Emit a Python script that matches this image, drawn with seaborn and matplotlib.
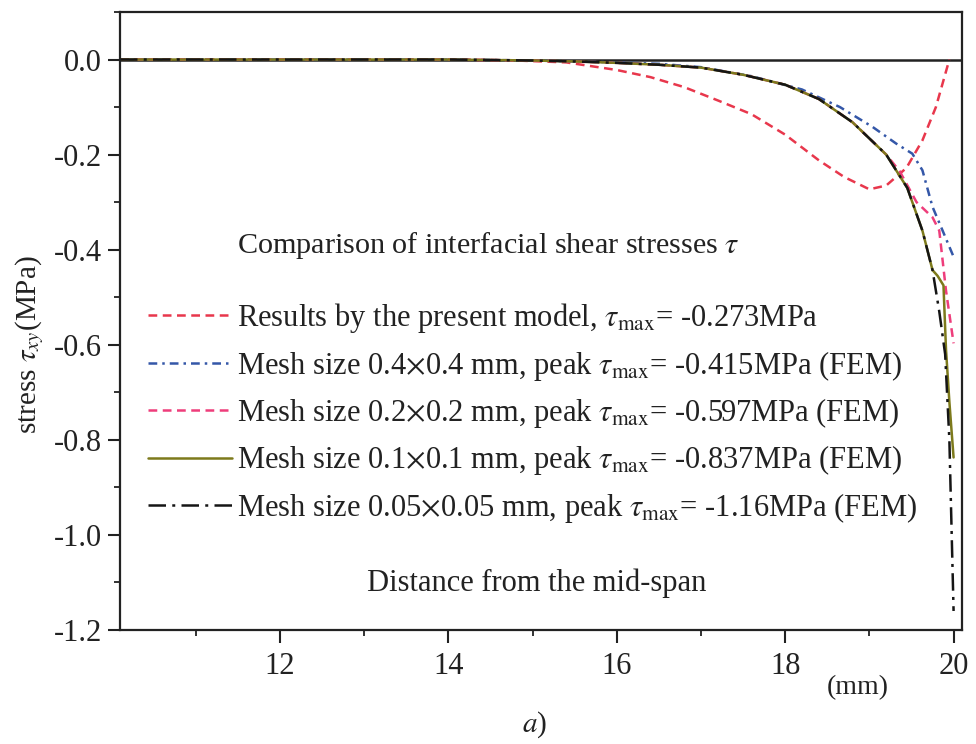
import matplotlib
matplotlib.use("Agg")
import matplotlib.pyplot as plt
import seaborn as sns
import pandas as pd
from matplotlib.ticker import MultipleLocator

# ---------------- data ----------------
x_model = [10.1, 11, 12, 13, 14, 14.8, 15.4, 16.0, 16.4, 16.8, 17.2, 17.6, 18.0, 18.4,
           18.7, 19.0, 19.2, 19.44, 19.63, 19.79, 19.95]
y_model = [0.0, 0.0, 0.0, 0.0, 0.0, -0.002, -0.006, -0.022, -0.037, -0.058, -0.086, -0.115,
           -0.158, -0.212, -0.247, -0.273, -0.265, -0.228, -0.17, -0.10, 0.0]

x_m04 = [10.1, 11, 12, 13, 14, 15, 16, 16.5, 17, 17.6, 18.2, 18.65, 19.04, 19.32, 19.51,
         19.63, 19.75, 19.87, 20.0]
y_m04 = [0.0, 0.0, 0.0, 0.0, 0.0, -0.002, -0.006, -0.009, -0.016, -0.035, -0.063, -0.10,
         -0.142, -0.177, -0.198, -0.233, -0.31, -0.36, -0.415]

x_m02 = [10.1, 11, 12, 13, 14, 15, 15.5, 16, 16.5, 17, 17.5, 18, 18.4, 18.8, 19.2, 19.36,
         19.56, 19.75, 19.83, 19.91, 20.0]
y_m02 = [0.0, 0.0, 0.0, 0.0, 0.0, -0.002, -0.004, -0.007, -0.011, -0.017, -0.032, -0.053,
         -0.083, -0.132, -0.2, -0.235, -0.30, -0.332, -0.36, -0.486, -0.597]

x_m01 = [10.1, 11, 12, 13, 14, 15, 15.5, 16, 16.5, 17, 17.5, 18, 18.4, 18.8, 19.2, 19.45,
         19.63, 19.75, 19.81, 19.88, 19.91, 19.95, 20.0]
y_m01 = [0.0, 0.0, 0.0, 0.0, 0.0, -0.002, -0.004, -0.007, -0.011, -0.017, -0.032, -0.053,
         -0.083, -0.132, -0.2, -0.27, -0.36, -0.443, -0.455, -0.475, -0.61, -0.72, -0.837]

x_m005 = [10.1, 11, 12, 13, 14, 15, 15.5, 16, 16.5, 17, 17.5, 18, 18.4, 18.8, 19.2, 19.45,
          19.63, 19.75, 19.83, 19.9, 19.95, 20.0]
y_m005 = [0.0, 0.0, 0.0, 0.0, 0.0, -0.002, -0.004, -0.007, -0.011, -0.017, -0.032, -0.053,
          -0.083, -0.132, -0.2, -0.27, -0.36, -0.443, -0.53, -0.62, -0.80, -1.16]

labels = [
    r"Results by the present model, $\tau_{\rm max}$= -0.273MPa",
    r"Mesh size 0.4$\times$0.4 mm, peak $\tau_{\rm max}$= -0.415MPa (FEM)",
    r"Mesh size 0.2$\times$0.2 mm, peak $\tau_{\rm max}$= -0.597MPa (FEM)",
    r"Mesh size 0.1$\times$0.1 mm, peak $\tau_{\rm max}$= -0.837MPa (FEM)",
    r"Mesh size 0.05$\times$0.05 mm, peak $\tau_{\rm max}$= -1.16MPa (FEM)",
]
x_ticks = [12, 14, 16, 18, 20]
y_ticks = [0.0, -0.2, -0.4, -0.6, -0.8, -1.0, -1.2]

# ---------------- style ----------------
sns.set_theme(style="ticks")
plt.rcParams["font.family"] = ["Liberation Serif", "DejaVu Serif"]
plt.rcParams["mathtext.fontset"] = "stix"
plt.rcParams["axes.edgecolor"] = "#222222"
plt.rcParams["axes.linewidth"] = 1.6

fig = plt.figure(figsize=(9.76, 7.44), dpi=100)
W, H = 976, 744
ax = fig.add_axes([120 / W, 1 - 630 / H, (962 - 120) / W, (630 - 12) / H])

series = [
    (x_model, y_model, "#e8374c", (0, (3.5, 2.2))),
    (x_m04, y_m04, "#3457a8", (0, (3.5, 2.0, 1.0, 2.0))),
    (x_m02, y_m02, "#ee3d7b", (0, (3.5, 2.2))),
    (x_m01, y_m01, "#7d7a1c", "-"),
    (x_m005, y_m005, "#151515", (0, (7, 2.5, 1.2, 2.5))),
]

handles = []
for (xs, ys, col, ls), lab in zip(series, labels):
    df = pd.DataFrame({"x": xs, "y": ys})
    sns.lineplot(data=df, x="x", y="y", ax=ax, color=col, linestyle=ls,
                 linewidth=1.8, estimator=None, sort=False, label=lab, legend=False)
    handles.append(ax.lines[-1])

ax.axhline(0.0, color="#222222", linewidth=1.8, zorder=1)

ax.set_xlim(10.1, 20.1)
ax.set_ylim(-1.2, 0.1)
ax.set_xticks(x_ticks)
ax.set_yticks(y_ticks)
ax.set_xticklabels([str(v) for v in x_ticks])
ax.set_yticklabels(["0.0", "-0.2", "-0.4", "-0.6", "-0.8", "-1.0", "-1.2"])
ax.xaxis.set_minor_locator(MultipleLocator(1))
ax.yaxis.set_minor_locator(MultipleLocator(0.1))
ax.tick_params(axis="both", which="major", direction="out", length=9, width=1.5,
               labelsize=22, colors="#222222")
ax.tick_params(axis="x", which="major", pad=7)
ax.tick_params(axis="y", which="major", pad=4)
ax.tick_params(axis="both", which="minor", direction="out", length=4, width=1.3,
               colors="#222222")
for s in ax.spines.values():
    s.set_visible(True)
    s.set_color("#222222")

ax.set_xlabel("Distance from the mid-span", fontsize=22, color="#222222")
ax.xaxis.set_label_coords((537 - 120) / 842, (630 - 583) / 618)
ax.xaxis.label.set_verticalalignment("center")
ax.set_ylabel(r"stress $\tau_{xy}$(MPa)", fontsize=21, color="#222222")
ax.yaxis.set_label_coords((30 - 120) / 842, (630 - 345) / 618)
ax.yaxis.label.set_verticalalignment("center")

leg = ax.legend(handles=handles, labels=labels, loc="center left",
                bbox_to_anchor=(148 / W, 1 - 413 / H), bbox_transform=fig.transFigure,
                frameon=False, fontsize=22, handlelength=2.75, handletextpad=0.17,
                labelspacing=0.44, borderpad=0, borderaxespad=0)
for t in leg.get_texts():
    t.set_color("#222222")

fig.text(237 / W, 1 - 245 / H, r"Comparison of interfacial shear stresses $\tau$",
         fontsize=21.7, ha="left", va="center", color="#222222")
fig.text(858 / W, 1 - 688 / H, "(mm)", fontsize=20, ha="center", va="center", color="#222222")
fig.text(535 / W, 1 - 725 / H, r"$a$)", fontsize=21, ha="center", va="center", color="#222222")

fig.savefig("out.png", dpi=100, facecolor="white")
